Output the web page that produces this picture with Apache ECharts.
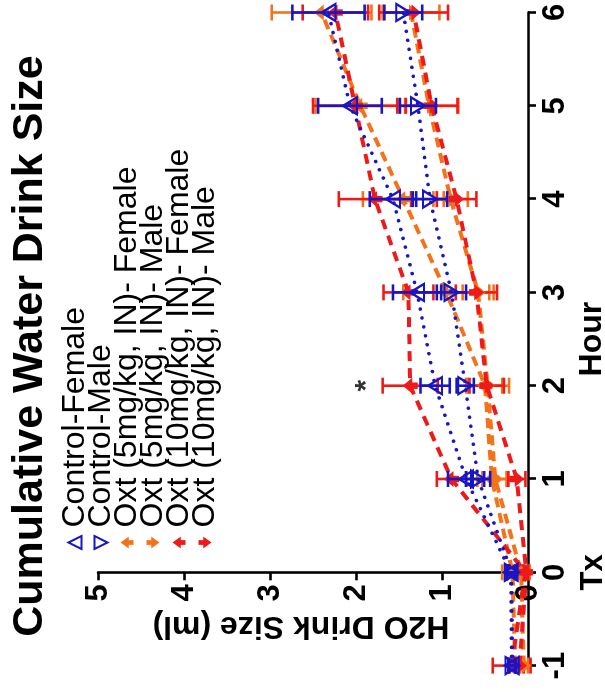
<!DOCTYPE html>
<html><head><meta charset="utf-8">
<script src="https://cdn.jsdelivr.net/npm/echarts@6/dist/echarts.min.js"></script>
<style>
html,body{margin:0;padding:0;background:#fff;overflow:hidden;width:605px;height:692px;}
#chart{position:absolute;left:0;top:0;width:692px;height:605px;transform-origin:0 0;transform:translate(0,692px) rotate(-90deg);background:#fff;}
</style></head><body><div id="chart"></div>
<script>
// ---- data ----
const hours = [-1, 0, 1, 2, 3, 4, 5, 6];
const seriesNames = ['Control-Female', 'Control-Male', 'Oxt (5mg/kg, IN)- Female', 'Oxt (5mg/kg, IN)- Male', 'Oxt (10mg/kg, IN)- Female', 'Oxt (10mg/kg, IN)- Male'];
const ctrlF     = [0.19, 0.20, 0.72, 1.08, 1.29, 1.57, 2.07, 2.32];
const ctrlFErr  = [0.04, 0.05, 0.21, 0.17, 0.28, 0.27, 0.37, 0.42];
const ctrlM     = [0.18, 0.19, 0.58, 0.73, 0.89, 1.14, 1.28, 1.45];
const ctrlMErr  = [0.04, 0.05, 0.14, 0.10, 0.17, 0.20, 0.21, 0.22];
const oxt5F     = [0.15, 0.18, 0.42, 0.50, 0.95, 1.45, 1.95, 2.40];
const oxt5FErr  = [0.06, 0.12, 0.17, 0.20, 0.50, 0.47, 0.52, 0.58];
const oxt5M     = [0.05, 0.08, 0.38, 0.47, 0.58, 0.90, 1.15, 1.36];
const oxt5MErr  = [0.05, 0.10, 0.15, 0.25, 0.18, 0.20, 0.34, 0.33];
const oxt10F    = [0.19, 0.03, 0.89, 1.37, 1.39, 1.78, 2.01, 2.24];
const oxt10FErr = [0.22, 0.03, 0.17, 0.32, 0.29, 0.42, 0.49, 0.38];
const oxt10M    = [0.10, 0.02, 0.13, 0.48, 0.60, 0.83, 1.12, 1.33];
const oxt10MErr = [0.05, 0.02, 0.10, 0.20, 0.24, 0.23, 0.30, 0.40];
const starHour = 2, starValue = 1.88, starText = '*';
const titleText = 'Cumulative Water Drink Size';
const xName = 'Hour', yName = 'H2O Drink Size (ml)', txText = 'Tx';

// ---- styles ----
const FONT = '"Liberation Sans", Arial, Helvetica, sans-serif';
const BLUE = '#1616c8', ORANGE = '#f5721a', RED = '#ee1a1a';
const triUp = 'path://M5,0 L10,10 L0,10 Z';
const triDown = 'path://M0,0 L10,0 L5,10 Z';
const arrowUp = 'path://M5,0 L10,7 L7,7 L7,11 L3,11 L3,7 L0,7 Z';
const arrowDown = 'path://M3,0 L7,0 L7,4 L10,4 L5,11 L0,4 L3,4 Z';

const groups = [
  {vals: ctrlF, errs: ctrlFErr, color: BLUE, sym: triUp, open: true, dash: [0.1, 9], z: 6},
  {vals: ctrlM, errs: ctrlMErr, color: BLUE, sym: triDown, open: true, dash: [0.1, 9], z: 6},
  {vals: oxt5F, errs: oxt5FErr, color: ORANGE, sym: arrowUp, open: false, dash: [10, 6], z: 3},
  {vals: oxt5M, errs: oxt5MErr, color: ORANGE, sym: arrowDown, open: false, dash: [10, 6], z: 3},
  {vals: oxt10F, errs: oxt10FErr, color: RED, sym: arrowUp, open: false, dash: [10, 7], z: 4},
  {vals: oxt10M, errs: oxt10MErr, color: RED, sym: arrowDown, open: false, dash: [10, 7], z: 4}
];

const series = [];
groups.forEach((g, k) => {
  series.push({
    type: 'custom', name: seriesNames[k] + ' SEM', z: g.z - 1, silent: true,
    data: hours.map((h, i) => [h, g.vals[i] - g.errs[i], g.vals[i] + g.errs[i]]),
    renderItem: function (params, api) {
      const x = api.value(0);
      const lo = api.coord([x, api.value(1)]);
      const hi = api.coord([x, api.value(2)]);
      const w = 8;
      const st = {stroke: g.color, lineWidth: 2.6, fill: null};
      return {type: 'group', children: [
        {type: 'line', shape: {x1: lo[0], y1: lo[1], x2: hi[0], y2: hi[1]}, style: st},
        {type: 'line', shape: {x1: lo[0] - w, y1: lo[1], x2: lo[0] + w, y2: lo[1]}, style: st},
        {type: 'line', shape: {x1: hi[0] - w, y1: hi[1], x2: hi[0] + w, y2: hi[1]}, style: st}
      ]};
    }
  });
  series.push({
    type: 'line', name: seriesNames[k], z: g.z,
    data: hours.map((h, i) => [h, g.vals[i]]),
    symbol: g.sym, symbolSize: g.open ? [17, 14] : [16, 15],
    itemStyle: g.open ? {color: 'rgba(255,255,255,0)', borderColor: g.color, borderWidth: 2.2}
                      : {color: g.color, borderWidth: 0},
    lineStyle: {color: g.color, width: g.open ? 3.6 : 4, type: g.dash, cap: g.open ? 'round' : 'butt'},
    emphasis: {disabled: true}
  });
});
series.push({
  type: 'scatter', name: 'sig', data: [[starHour, starValue]], symbolSize: 1,
  itemStyle: {color: 'rgba(0,0,0,0)'}, silent: true,
  label: {show: true, position: 'inside', formatter: starText, color: '#000', fontSize: 30, fontWeight: 'bold', fontFamily: FONT}
});

const GRID_LEFT = 26.4, GRID_RIGHT = 12.5, GRID_TOP = 98, GRID_BOTTOM = 77;
const W = 692;
// y axis sits at hour 0: offset inward by one hour step
const hourStep = (W - GRID_LEFT - GRID_RIGHT) / (hours[hours.length - 1] - hours[0]);

const chart = echarts.init(document.getElementById('chart'), null, {renderer: 'canvas'});
chart.setOption({
  animation: false,
  backgroundColor: '#fff',
  title: {text: titleText, left: 'center', top: 4,
    textStyle: {fontFamily: FONT, fontSize: 43, fontWeight: 'bold', color: '#000'}},
  legend: {
    orient: 'vertical', left: 137, top: 54, itemWidth: 14, itemHeight: 13, itemGap: -6,
    selectedMode: false,
    textStyle: {fontFamily: FONT, fontSize: 32, color: '#000', lineHeight: 26.5, padding: [0, 0, 0, 3]},
    data: seriesNames.map((n, k) => ({name: n, icon: groups[k].sym}))
  },
  grid: {left: GRID_LEFT, right: GRID_RIGHT, top: GRID_TOP, bottom: GRID_BOTTOM, containLabel: false, outerBoundsMode: 'none'},
  xAxis: {
    type: 'value', min: -1, max: 6, interval: 1,
    name: xName, nameLocation: 'middle', nameGap: 48, nameMoveOverlap: false,
    nameTextStyle: {fontFamily: FONT, fontSize: 32, fontWeight: 'bold', color: '#000', lineHeight: 32},
    axisLine: {onZero: false, lineStyle: {color: '#000', width: 2.6}},
    axisTick: {length: 8, lineStyle: {color: '#000', width: 2.6}},
    splitLine: {show: false},
    axisLabel: {fontFamily: FONT, fontSize: 31, fontWeight: 'bold', color: '#000', margin: 8, lineHeight: 38,
      formatter: v => v === 0 ? '0\n' + txText : String(v)}
  },
  yAxis: {
    type: 'value', min: 0, max: 5, interval: 1,
    offset: -hourStep * (0 - hours[0]),
    name: yName, nameLocation: 'middle', nameRotate: 90, nameGap: 38, nameMoveOverlap: false,
    nameTextStyle: {fontFamily: FONT, fontSize: 32, fontWeight: 'bold', color: '#000', padding: [0, 0, 0, 24]},
    axisLine: {onZero: false, lineStyle: {color: '#000', width: 2.6}},
    axisTick: {length: 8, lineStyle: {color: '#000', width: 2.6}},
    splitLine: {show: false},
    axisLabel: {fontFamily: FONT, fontSize: 31, fontWeight: 'bold', color: '#000', margin: 12}
  },
  series: series
});
</script></body></html>
